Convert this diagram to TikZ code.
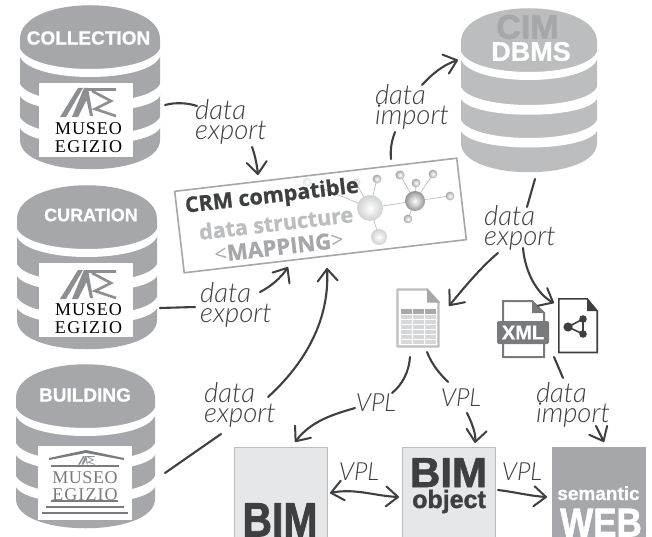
\documentclass[tikz,border=0pt]{standalone}
\usepackage{fontspec}
\setmainfont{Liberation Sans}
\newfontfamily\hand{Lato Light}[ItalicFont={Lato Light Italic}]
\newfontfamily\serifm{Liberation Serif}
\newfontfamily\crmf{Open Sans}[BoldFeatures={FakeBold=1.0}]
\newfontfamily\blackf{Liberation Sans}[UprightFont=* Bold,FakeBold=1.6]
\newfontfamily\titlef{Liberation Sans}[UprightFont=* Bold,FakeBold=0.8]
\usetikzlibrary{arrows.meta,calc}
\definecolor{dbg}{RGB}{165,167,170}
\definecolor{dbl}{RGB}{187,189,191}
\definecolor{ink}{RGB}{62,63,65}
\definecolor{midg}{RGB}{120,122,125}
\definecolor{logog}{RGB}{140,142,145}
\definecolor{boxl}{RGB}{230,231,232}
\tikzset{
  x=1pt,y=-1pt,
  wire/.style={draw=ink,line width=2.1pt,line cap=round},
  arr/.style={wire,-{Straight Barb[length=12pt,width=20pt,line width=2pt,round]}},
  arrb/.style={wire,{Straight Barb[length=12pt,width=20pt,line width=2pt,round]}-{Straight Barb[length=12pt,width=20pt,line width=2pt,round]}},
  hw/.style={font=\hand\itshape\fontsize{27.5}{20.5}\selectfont,text=ink,align=left,inner sep=0pt},
  vpl/.style={font=\hand\itshape\fontsize{25}{25}\selectfont,text=ink,inner sep=0pt},
  dbt/.style={font=\titlef\fontsize{19}{19}\selectfont,text=white,inner sep=0pt},
  logobox/.style={fill=white,draw=none,inner sep=0pt,minimum width=94pt,minimum height=74pt},
  muse/.style={font=\serifm\fontsize{18}{17.5}\selectfont,align=center,inner sep=0pt},
  bigbox/.style={line width=.9pt,minimum width=93pt,minimum height=90pt,anchor=north west,inner sep=0pt},
  boxt/.style={anchor=base,inner sep=0pt},
  crmt/.style={rotate=6.7,font=\crmf\bfseries\fontsize{21.5}{22}\selectfont,inner sep=0pt},
}
\begin{document}
\begin{tikzpicture}
\useasboundingbox (0,0) rectangle (652,537);
\fill[white] (0,0) rectangle (652,537);
\newcommand{\database}[4]{%
 \begin{scope}[shift={(#1,#2)}]
 \def\w{#3}
 \fill[#4] (-\w,34) .. controls (-\w,-11) and (\w,-11) .. (\w,34) -- (\w,135) .. controls (\w,174) and (-\w,174) .. (-\w,135) -- cycle;
 \fill[white] (-\w-1,40) .. controls (-\w+2,72) and (\w-2,72) .. (\w+1,40) -- (\w+1,48) .. controls (\w-2,80) and (-\w+2,80) .. (-\w-1,48) -- cycle;
 \fill[white] (-\w-1,76) .. controls (-\w+2,104) and (\w-2,104) .. (\w+1,76) -- (\w+1,88) .. controls (\w-2,113) and (-\w+2,113) .. (-\w-1,88) -- cycle;
 \fill[white] (-\w-1,109) .. controls (-\w+2,137) and (\w-2,137) .. (\w+1,109) -- (\w+1,120) .. controls (\w-2,146) and (-\w+2,146) .. (-\w-1,120) -- cycle;
 \end{scope}}
\database{90}{5}{70}{dbg}
\database{87}{185}{70}{dbg}
\database{85.5}{364}{69.5}{dbg}
\database{529}{8}{68}{dbl}
% titles
\node[dbt] (tcoll) at (88.5,38) {COLLECTION};
\node[dbt,font=\titlef\fontsize{18}{18}\selectfont] (tcur) at (91,215) {CURATION};
\node[dbt] (tbuild) at (85,395) {BUILDING};
\node[font=\blackf\fontsize{34}{34}\selectfont,text=dbg,inner sep=0pt] (tcim) at (527.5,27) {CIM};
\node[font=\titlef\fontsize{27}{27}\selectfont,text=white,inner sep=0pt] (tdbms) at (531,51.5) {DBMS};
% logo boxes
\node[logobox] (la) at (86,120) {};
\node[logobox] (lb) at (86,300) {};
\node[logobox] (lc) at (85,482.5) {};
\newcommand{\melogo}[3]{%
 \begin{scope}[shift={(#1,#2)},scale=#3]
  \fill[logog] (-27,14) -- (-9,-15) -- (-4,-15) -- (-21,14) -- cycle;
  \fill[logog] (-15,14) -- (-3,-15) -- (1,-15) -- (6,13) -- (3,13) -- (-0.5,-3) -- (-9,14) -- cycle;
  \draw[logog,line width=2.6*#3 pt] (1,-13.5) -- (29,-13.5) (5,-12) -- (24,-2) -- (8,6) -- (29,13);
 \end{scope}}
\melogo{87}{103}{1}
\melogo{87}{285}{1}
\node[muse] (ma) at (88.5,137.5) {\addfontfeature{LetterSpace=5}MUSEO\\\addfontfeature{LetterSpace=8}EGIZIO};
\node[muse] (mb) at (88.5,318.5) {\addfontfeature{LetterSpace=5}MUSEO\\\addfontfeature{LetterSpace=8}EGIZIO};
% building logo
\fill[midg] (49,458) -- (86,450) -- (124,458) -- (124,460) -- (86,453) -- (49,460) -- cycle;
\fill[midg] (51,464.5) rectangle (119,467);
\melogo{86}{460.5}{0.3}
\node[muse,text=midg] (mc) at (85,486) {\addfontfeature{LetterSpace=3}MUSEO\\\addfontfeature{LetterSpace=6}EGIZIO};
\draw[midg,line width=1.2pt] (51,501) -- (118,501);
\draw[midg,line width=1.6pt] (46,507) -- (124,507);
\draw[midg,line width=1.6pt] (42,513) -- (128,513);
% central rotated box
\node[draw=dbg,line width=1.6pt,fill=white,rotate=6.7,minimum width=284pt,minimum height=82pt,inner sep=0pt] (crm) at (320.5,215.5) {};
% molecule
\draw[dbl,line width=.7pt] (370,208)--(377,179) (370,208)--(379,237) (370,208)--(415,201) (415,201)--(400,175) (415,201)--(416,183) (415,201)--(433,174) (415,201)--(450,196) (415,201)--(408,219) (370,208)--(356,183) (370,208)--(307,182);
\foreach \x/\y/\r/\c in {307/182/4.4/dbl!40,356/183/4.4/dbl!60,377/179/4.4/dbg,400/175/4.6/dbg,416/183/4.4/dbg,433/174/4.4/dbg,450/196/4.4/dbg,408/219/4.4/dbg,379/237/8/dbl!70,370/208/13/dbl!70,415/201/10/midg!80}{
  \shade[inner color=white,outer color=\c] (\x,\y) circle[radius=\r];
}
\node[crmt,text=ink] (t1) at (272,197) {CRM compatible};
\node[crmt,text=dbl] (t2) at (276,223) {data structure};
\node[crmt,text=dbg,font=\crmf\fontsize{22}{22}\selectfont] (t3) at (279,247) {<\textbf{MAPPING}>};
% spreadsheet doc
\draw[dbl,line width=2.4pt,fill=white,line join=round] (397.5,289.5) -- (427,289.5) -- (438.5,302.5) -- (438.5,346.5) -- (397.5,346.5) -- cycle;
\fill[dbg] (427,288) -- (440,302.5) -- (427,302.5) -- cycle;
\fill[midg!65] (401,309) rectangle (436,314);
\foreach \yy in {315,320,325,330,335,340}{\fill[dbl!60] (401,\yy) rectangle (436,\yy+4);}
\foreach \xx in {412.5,424.5}{\draw[white,line width=.7pt] (\xx,309)--(\xx,344);}
% xml
\draw[midg,line width=2pt,fill=white] (503,301) -- (532,301) -- (544,313) -- (544,357) -- (503,357) -- cycle;
\fill[midg] (532,300) -- (545,313) -- (532,313) -- cycle;
\fill[midg,rounded corners=2pt] (497,321) rectangle (549,344);
\node[font=\titlef\fontsize{20}{20}\selectfont,text=white,inner sep=0pt] (xml) at (523,332.5) {XML};
\draw[ink,line width=1.6pt,fill=white] (558.8,298.8) -- (587,298.8) -- (597.2,311) -- (597.2,352.5) -- (558.8,352.5) -- cycle;
\fill[ink] (587,298) -- (598,311) -- (587,311) -- cycle;
\draw[ink,line width=1.6pt] (583,319) -- (568,327) -- (583,334) -- cycle;
\foreach \x/\y/\r in {568/327/4.6,583/319/3.8,583/334/3.8}{\fill[ink] (\x,\y) circle[radius=\r];}
% BIM boxes
\node[draw=dbl,fill=boxl,bigbox] (bim) at (234,447) {};
\node[draw=dbl,fill=boxl,bigbox] (bimo) at (402,447) {};
\node[draw=dbg,fill=dbg,bigbox] (sem) at (552,447) {};
\node[boxt,text=ink,font=\blackf\fontsize{41}{41}\selectfont,yscale=1.18] (tb) at (280,536.5) {BIM};
\node[boxt,text=ink,font=\blackf\fontsize{42}{42}\selectfont] (tbo) at (448.5,487) {BIM};
\node[boxt,text=ink,font=\blackf\fontsize{25}{25}\selectfont] (tobj) at (449,508) {object};
\node[boxt,text=white,font=\titlef\fontsize{19}{19}\selectfont] (tsem) at (598.5,500) {semantic};
\node[boxt,text=white,font=\blackf\fontsize{35}{35}\selectfont,yscale=1.15] (tweb) at (601,536.5) {WEB};
% handwriting
\node[hw] (d1) at (231,122) {data\\export};
\node[hw] (d2) at (236,305) {data\\export};
\node[hw] (d3) at (240,405) {data\\export};
\node[hw] (i1) at (412,107) {data\\import};
\node[hw] (d4) at (520,228) {data\\export};
\node[hw] (i2) at (573,405) {data\\import};
\node[vpl] (v1) at (376,403) {VPL};
\node[vpl] (v2) at (461,398) {VPL};
\node[vpl] (v3) at (359,472) {VPL};
\node[vpl] (v4) at (522,472) {VPL};
% connectors
\coordinate (c1) at (165,105); \coordinate (c1x) at (197,106);
\draw[wire] (c1) .. controls (176,102) and (188,103) .. (c1x);
\coordinate (c1b) at (252,147); \coordinate (c1c) at (258,175);
\draw[arr] (c1b) .. controls (255,155) and (257,165) .. (c1c);
\coordinate (c2) at (160,308); \coordinate (c2b) at (195,307);
\draw[wire] (c2) -- (c2b);
\coordinate (c2c) at (260,292); \coordinate (c2d) at (288,267);
\draw[arr] (c2c) .. controls (270,287) and (281,278) .. (c2d);
\coordinate (c3) at (268,397); \coordinate (c3b) at (327,268);
\draw[arr] (c3) .. controls (300,368) and (330,325) .. (c3b);
\coordinate (c4) at (165,473); \coordinate (c4b) at (221,434);
\draw[wire] (c4) -- (c4b);
\coordinate (c5) at (391,159); \coordinate (c5b) at (395,132);
\draw[wire] (c5) .. controls (390,148) and (392,140) .. (c5b);
\coordinate (c6) at (422,85); \coordinate (c6b) at (458,60);
\draw[arr] (c6) .. controls (432,74) and (443,65) .. (c6b);
\coordinate (c7) at (535,179); \coordinate (c7b) at (527,207);
\draw[wire] (c7) -- (c7b);
\coordinate (c8) at (498,253); \coordinate (c8b) at (449,306);
\draw[arr] (c8) .. controls (482,266) and (462,290) .. (c8b);
\coordinate (c9) at (523,248); \coordinate (c9b) at (554,303);
\draw[arr] (c9) .. controls (525,272) and (537,294) .. (c9b);
\coordinate (c10) at (554,357); \coordinate (c10b) at (563,378);
\draw[wire] (c10) -- (c10b);
\coordinate (c11) at (596,426); \coordinate (c11b) at (604,442);
\draw[arr] (c11) -- (c11b);
\coordinate (c12) at (410,357); \coordinate (c12b) at (392,393);
\draw[wire] (c12) .. controls (409,372) and (402,385) .. (c12b);
\coordinate (c13) at (355,408); \coordinate (c13b) at (295,442);
\draw[arr] (c13) .. controls (335,414) and (312,420) .. (c13b);
\coordinate (c14) at (427,352); \coordinate (c14b) at (448,382);
\draw[wire] (c14) .. controls (432,365) and (440,374) .. (c14b);
\coordinate (c15) at (467,413); \coordinate (c15b) at (475,443);
\draw[arr] (c15) .. controls (473,425) and (476,435) .. (c15b);
\coordinate (c16) at (330,493); \coordinate (c16b) at (399,497);
\draw[arrb] (c16) .. controls (355,488) and (375,496) .. (c16b);
\coordinate (c17) at (498,490); \coordinate (c17b) at (547,497);
\draw[arr] (c17) .. controls (515,492) and (530,496) .. (c17b);
\end{tikzpicture}
\end{document}
